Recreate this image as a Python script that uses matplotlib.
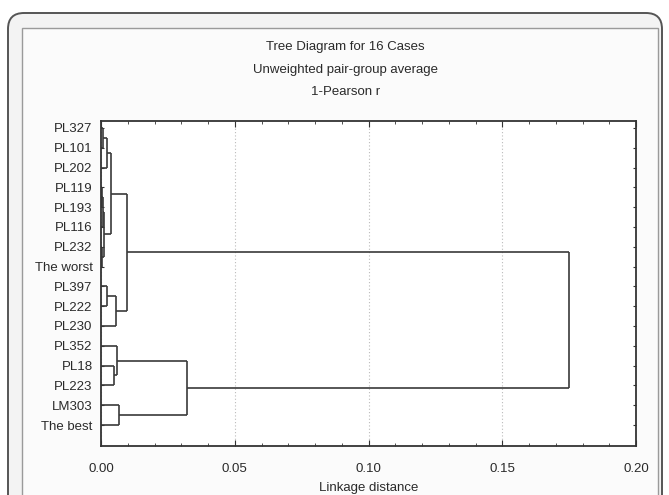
import numpy as np
import matplotlib
matplotlib.use("Agg")
import matplotlib.pyplot as plt
from matplotlib.patches import FancyBboxPatch, Rectangle
from matplotlib.transforms import IdentityTransform

# leaves, top to bottom
leaves = ["PL327", "PL101", "PL202", "PL119", "PL193", "PL116", "PL232", "The worst",
          "PL397", "PL222", "PL230", "PL352", "PL18", "PL223", "LM303", "The best"]

# merges: (child a, child b, linkage distance); new node ids start at 16
merge_a = [0, 16, 3, 18, 6, 19, 17, 8, 23, 22, 12, 11, 14, 27, 25]
merge_b = [1, 2, 4, 5, 7, 20, 21, 9, 10, 24, 13, 26, 15, 28, 29]
merge_h = [0.0006, 0.0021, 0.0004, 0.0009, 0.0005, 0.0013, 0.0036,
           0.0021, 0.0055, 0.0097, 0.0049, 0.0061, 0.0068, 0.032, 0.175]

xticks = [0.00, 0.05, 0.10, 0.15, 0.20]
xticklabels = ["0.00", "0.05", "0.10", "0.15", "0.20"]

txt = "#2a2a2a"
fs = 9.5
plt.rcParams["font.family"] = ["Liberation Sans", "DejaVu Sans"]

fig = plt.figure(figsize=(6.69, 4.95), dpi=100)
fig.patch.set_facecolor("white")

# outer rounded frame and inner panel (pixel coords)
outer = FancyBboxPatch((8, -40), 654, 522, boxstyle="round,pad=0,rounding_size=16",
                       transform=IdentityTransform(), facecolor="#f3f3f3",
                       edgecolor="#555555", linewidth=1.4, zorder=-3)
fig.patches.append(outer)
inner = Rectangle((22, -10), 636, 477, transform=IdentityTransform(),
                  facecolor="#fbfbfb", edgecolor="#9a9a9a", linewidth=1.0, zorder=-2)
fig.patches.append(inner)

ax = fig.add_axes([101 / 669, 1 - 446 / 495, 535 / 669, 325 / 495])
ax.set_facecolor("white")

# node positions
xs = {i: 0.0 for i in range(len(leaves))}
ys = {i: float(i) for i in range(len(leaves))}
lc = "#3a3a3a"
for k, (a, b, h) in enumerate(zip(merge_a, merge_b, merge_h)):
    n = len(leaves) + k
    ax.plot([xs[a], h], [ys[a], ys[a]], color=lc, lw=1.2, solid_capstyle="butt")
    ax.plot([xs[b], h], [ys[b], ys[b]], color=lc, lw=1.2, solid_capstyle="butt")
    ax.plot([h, h], [ys[a], ys[b]], color=lc, lw=1.2, solid_capstyle="butt")
    xs[n] = h
    ys[n] = (ys[a] + ys[b]) / 2

ax.set_xlim(0, 0.20)
ax.set_ylim(15 + 1.06, -0.35)
ax.set_xticks(xticks)
ax.set_xticklabels(xticklabels, color=txt, fontsize=fs)
ax.set_xticks(np.arange(0, 0.2001, 0.01), minor=True)
ax.set_yticks(range(len(leaves)))
ax.set_yticklabels(leaves, color=txt, fontsize=fs)
ax.tick_params(axis="both", which="both", direction="in", top=True, right=True,
               color="#333333")
ax.tick_params(axis="x", which="major", length=4, pad=12)
ax.tick_params(axis="x", which="minor", length=2.5)
ax.tick_params(axis="y", length=2.5, pad=6)
ax.grid(axis="x", which="major", linestyle=(0, (1, 2)), color="#bbbbbb", lw=0.8)
for s in ax.spines.values():
    s.set_color("#333333")
    s.set_linewidth(1.3)

ax.set_xlabel("Linkage distance", color=txt, fontsize=fs, labelpad=5)

fig.text(0.516, 1 - 47 / 495, "Tree Diagram for 16 Cases", ha="center", va="center",
         color=txt, fontsize=fs)
fig.text(0.516, 1 - 70 / 495, "Unweighted pair-group average", ha="center", va="center",
         color=txt, fontsize=fs)
fig.text(0.516, 1 - 92 / 495, "1-Pearson r", ha="center", va="center",
         color=txt, fontsize=fs)

fig.savefig("out.png", dpi=100)
